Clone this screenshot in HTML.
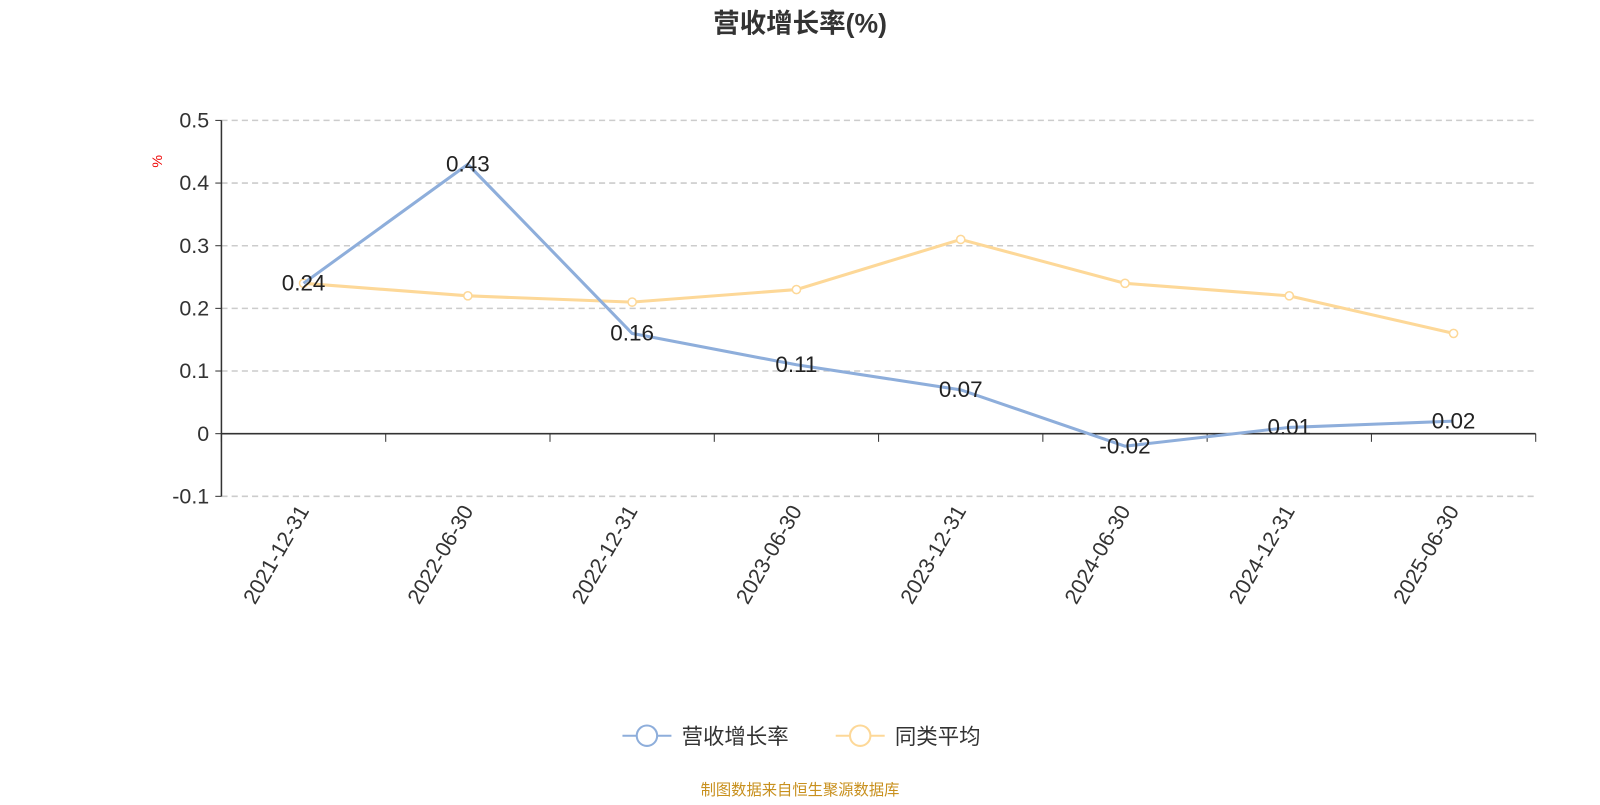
<!DOCTYPE html>
<html><head><meta charset="utf-8"><style>
body{margin:0;background:#fff;width:1600px;height:800px;overflow:hidden;font-family:"Liberation Sans","Noto Sans CJK SC",sans-serif}
</style></head><body>
<svg id="chart" width="1600" height="800" viewBox="0 0 1568 784" xmlns="http://www.w3.org/2000/svg" font-family="Liberation Sans, Noto Sans CJK SC, sans-serif">
<text x="784" y="32" text-anchor="middle" font-size="26" font-weight="bold" fill="#333">营收增长率(%)</text>
<text transform="translate(159,158) rotate(-90)" text-anchor="middle" font-size="14" fill="#e00">%</text>
<g id="grid"></g><g id="axes"></g><g id="series"></g>
<g>
<g><line x1="610" y1="721" x2="658" y2="721" stroke="#8eaedb" stroke-width="2"/><circle cx="634" cy="721" r="10" fill="#fff" stroke="#8eaedb" stroke-width="2"/><text x="668" y="729" font-size="21" fill="#333">营收增长率</text></g>
<g><line x1="819" y1="721" x2="867" y2="721" stroke="#fdd898" stroke-width="2"/><circle cx="843" cy="721" r="10" fill="#fff" stroke="#fdd898" stroke-width="2"/><text x="877" y="729" font-size="21" fill="#333">同类平均</text></g>
</g>
<text x="784" y="779" text-anchor="middle" font-size="15" fill="#c8901e">制图数据来自恒生聚源数据库</text>
</svg>
<script>
const categories=["2021-12-31","2022-06-30","2022-12-31","2023-06-30","2023-12-31","2024-06-30","2024-12-31","2025-06-30"];
const revenueGrowth=[0.24,0.43,0.16,0.11,0.07,-0.02,0.01,0.02];
const peerAverage=[0.24,0.22,0.21,0.23,0.31,0.24,0.22,0.16];
const yTicks=[0.5,0.4,0.3,0.2,0.1,0,-0.1];
const NS="http://www.w3.org/2000/svg";
const L=217,R=1505,band=(R-L)/categories.length;
const x=i=>L+band*(i+0.5);
const y=v=>425-v*614;
function mk(tag,attrs,parent,txt){const e=document.createElementNS(NS,tag);for(const k in attrs)e.setAttribute(k,attrs[k]);if(txt!==undefined)e.textContent=txt;parent.appendChild(e);return e;}
const grid=document.getElementById('grid'),axes=document.getElementById('axes'),series=document.getElementById('series');
yTicks.forEach(t=>{
 if(t!==0){const g=mk('line',{x1:L,x2:R,y1:y(t),y2:y(t),stroke:'#ccc','stroke-dasharray':'6,4','stroke-width':1.5},grid);
 }
 const tk=mk('line',{x1:L-6,x2:L,y1:y(t),y2:y(t),stroke:'#333'},axes);
 
 const lb=mk('text',{x:L-12,y:y(t)+7,'text-anchor':'end','font-size':21,fill:'#333'},axes,String(t));
 
});
const ya=mk('line',{x1:L,x2:L,y1:y(0.5),y2:y(-0.1),stroke:'#333','stroke-width':1.5},axes);

const xa=mk('line',{x1:L,x2:R,y1:y(0),y2:y(0),stroke:'#333','stroke-width':1.5},axes);

for(let i=0;i<=categories.length;i++){const t=mk('line',{x1:L+band*i,x2:L+band*i,y1:y(0),y2:y(0)+8,stroke:'#333'},axes);
 }
categories.forEach((c,i)=>{const t=mk('text',{transform:`translate(${x(i)+6},${y(-0.1)+14}) rotate(-60)`,'text-anchor':'end','font-size':21,fill:'#333'},axes,c);
 });
function line(vals,color,name,markers,labels){
 const p=mk('polyline',{points:vals.map((v,i)=>x(i)+','+y(v)).join(' '),fill:'none',stroke:color,'stroke-width':3},series);
 
 vals.forEach((v,i)=>{
  if(markers){const c=mk('circle',{cx:x(i),cy:y(v),r:4,fill:'#fff',stroke:color,'stroke-width':1.5},series);
   }
  if(labels){const t=mk('text',{x:x(i),y:y(v)+7,'text-anchor':'middle','font-size':22,fill:'#222'},series,v.toFixed(2));
   }
 });
}
line(peerAverage,'#fdd898','peer-average',true,false);
line(revenueGrowth,'#8eaedb','revenue-growth',false,true);
</script>
</body></html>
